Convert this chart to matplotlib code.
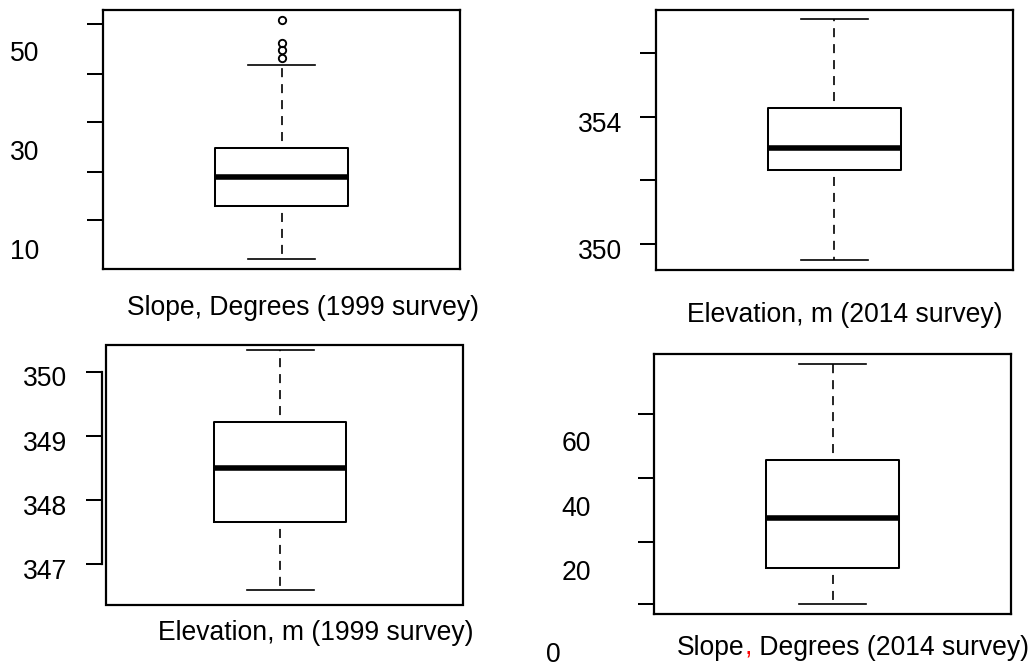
import matplotlib
matplotlib.use("Agg")
import matplotlib.pyplot as plt
from matplotlib.patches import Rectangle

plt.rcParams['font.family'] = ['Liberation Sans', 'DejaVu Sans']
plt.rcParams['lines.scale_dashes'] = False

# --- data: one entry per panel (slope 1999, elevation 2014, elevation 1999, slope 2014) ---
axis_titles = ["Slope, Degrees (1999 survey)",
               "Elevation, m (2014 survey)",
               "Elevation, m (1999 survey)",
               "Slope, Degrees (2014 survey)"]
whisker_low = [7.86, 349.65, 346.68, 9.43]
quartile_1 = [18.69, 352.50, 347.73, 20.68]
medians = [24.43, 353.20, 348.57, 36.19]
quartile_3 = [30.41, 354.47, 349.29, 54.26]
whisker_high = [47.07, 357.27, 350.41, 83.94]
outliers = [[48.44, 50.16, 51.57, 56.22], [], [], []]
y_limits = [(5.90, 58.24), (349.33, 357.57), (346.45, 350.49), (6.33, 86.95)]
tick_marks = [[15.86, 25.50, 35.61, 45.37, 55.47],
              [350.15, 352.18, 354.16, 356.20],
              [347.08, 348.08, 349.07, 350.07],
              [9.43, 28.74, 48.59, 68.53]]
tick_labels = [[10, 30, 50], [350, 354], [347, 348, 349, 350], [20, 40, 60]]
stray_label = 0  # lone label sitting below the last panel
stray_label_y = -5.3

W, H = 1032, 664
fig = plt.figure(figsize=(W / 100, H / 100), dpi=100)


def frac(x, y):
    return x / W, 1 - y / H


# panel frames in pixels: left, top, right, bottom
frames = [(103, 10, 460, 269), (656, 9.7, 1012.7, 270),
          (106, 344.7, 462.7, 604.7), (654.3, 354.3, 1011, 614.3)]
label_pad = [45.9, 24.5, 24.8, 45.4]
box_pos = [1.0, 1.0, 0.988, 1.0]
fs = 19.1

axes = []
for i in range(4):
    l, t, r, b = frames[i]
    ax = fig.add_axes([l / W, 1 - b / H, (r - l) / W, (b - t) / H])
    axes.append(ax)

    stats = [dict(whislo=whisker_low[i], q1=quartile_1[i], med=medians[i],
                  q3=quartile_3[i], whishi=whisker_high[i], fliers=outliers[i])]
    ax.bxp(stats, positions=[box_pos[i]], widths=0.372, capwidths=0.188,
           boxprops=dict(color='black', linewidth=1.45),
           medianprops=dict(color='black', linewidth=4, solid_capstyle='butt'),
           whiskerprops=dict(color='black', linewidth=1.2,
                             linestyle=(6.5, (6.5, 5.0))),
           capprops=dict(color='black', linewidth=1.2),
           flierprops=dict(marker='o', markerfacecolor='none',
                           markeredgecolor='black', markersize=5.3,
                           markeredgewidth=1.35))

    ax.set_xlim(0.5, 1.5)
    ax.set_ylim(*y_limits[i])
    ax.set_xticks([])

    # tick marks and their labels sit at different heights
    ax.set_yticks(tick_marks[i])
    ax.set_yticks(tick_labels[i], labels=[str(v) for v in tick_labels[i]], minor=True)
    ax.tick_params(axis='y', which='major', length=11.3, width=1.45,
                   labelleft=False)
    ax.tick_params(axis='y', which='minor', length=0, pad=label_pad[i],
                   labelsize=fs)

    for s in ax.spines.values():
        s.set_linewidth(1.6)

# lower-left panel: axis line pulled away from the frame, spanning the ticks
ax = axes[2]
for s in ax.spines.values():
    s.set_visible(False)
ax.spines['left'].set_visible(True)
ax.spines['left'].set_position(('outward', 3.1))
ax.spines['left'].set_bounds(tick_marks[2][0], tick_marks[2][-1])
ax.add_patch(Rectangle((0, 0), 1, 1, transform=ax.transAxes, fill=False,
                       linewidth=1.6, edgecolor='black', clip_on=False))

# axis titles under each panel
fig.text(*frac(303.3, 315), axis_titles[0], fontsize=fs, ha='center', va='baseline')
fig.text(*frac(844.8, 322), axis_titles[1], fontsize=fs, ha='center', va='baseline')
fig.text(*frac(316, 640.3), axis_titles[2], fontsize=fs, ha='center', va='baseline')

# last title has a red comma
first, rest = axis_titles[3].split(",", 1)
t1 = fig.text(*frac(676.7, 654.7), first, fontsize=fs, ha='left', va='baseline')
t2 = axes[3].annotate(",", xy=(1, 0), xycoords=t1, fontsize=fs, color='red',
                      ha='left', va='bottom')
axes[3].annotate(rest, xy=(1, 0), xycoords=t2, fontsize=fs,
                 ha='left', va='bottom')

axes[3].text(-0.2616, stray_label_y, str(stray_label), fontsize=fs,
             ha='right', va='center_baseline',
             transform=axes[3].get_yaxis_transform(), clip_on=False)

fig.savefig("out.png", dpi=100)
